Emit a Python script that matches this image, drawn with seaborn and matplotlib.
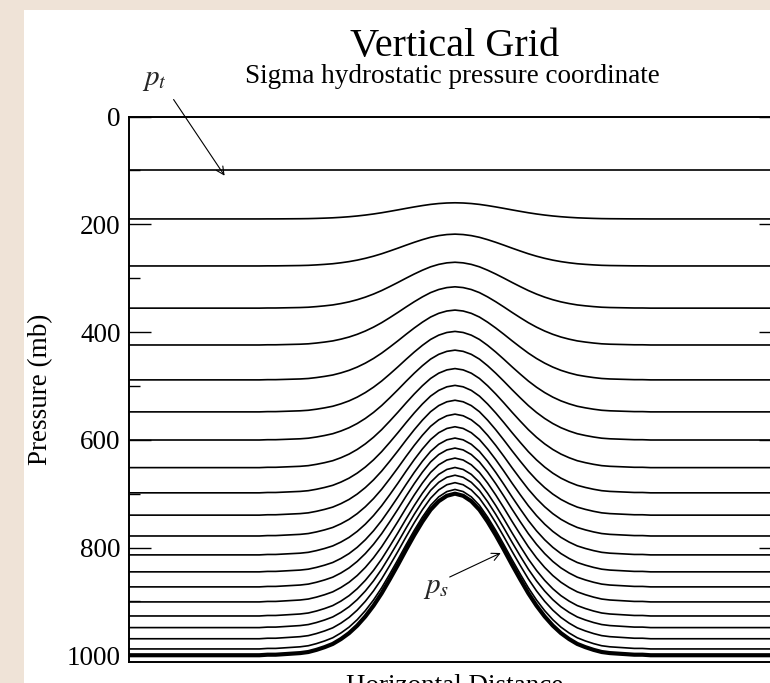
import numpy as np
import pandas as pd
import matplotlib
matplotlib.use("Agg")
import matplotlib.pyplot as plt
import seaborn as sns
from matplotlib.patches import Rectangle

# ---------------- data ----------------
P_TOP = 100  # model top pressure p_t (mb)

# sigma levels (0 = model top, 1 = surface), read at the flat left edge
sigma_levels = [0.0, 0.1, 0.197, 0.284, 0.36, 0.432, 0.498, 0.556, 0.613, 0.665,
                0.711, 0.754, 0.793, 0.828, 0.859, 0.89, 0.919, 0.943, 0.966, 0.987]

# horizontal positions and surface pressure p_s (mb) along the section
x_pos = [0, 20, 21.25, 22.5, 23.75, 25, 26.25, 27.5, 28.75, 30, 31.25, 32.5, 33.75,
         35, 36.25, 37.5, 38.75, 40, 41.25, 42.5, 43.75, 45, 46.25, 47.5, 48.75,
         50, 51.25, 52.5, 53.75, 55, 56.25, 57.5, 58.75, 60, 61.25, 62.5, 63.75,
         65, 66.25, 67.5, 68.75, 70, 71.25, 72.5, 73.75, 75, 76.25, 77.5, 78.75,
         80, 100]
surface_p = [1000, 1000, 999, 999, 998, 997, 996, 994, 990, 985, 979, 970, 959,
             945, 928, 908, 885, 859, 832, 804, 777, 752, 730, 714, 704,
             700, 704, 714, 730, 752, 777, 804, 832, 859, 885, 908, 928,
             945, 959, 970, 979, 985, 990, 994, 996, 997, 998, 999, 999,
             1000, 1000]

y_major = [0, 200, 400, 600, 800, 1000]
y_minor = [100, 300, 500, 700, 900]

# ---------------- build long table: p = p_t + sigma * (p_s - p_t) ----------------
xs = np.array(x_pos, dtype=float)
ps = np.array(surface_p, dtype=float)
rows = []
for k, s in enumerate(sigma_levels):
    for xv, pv in zip(xs, P_TOP + s * (ps - P_TOP)):
        rows.append({"x": xv, "p": pv, "level": k})
df_levels = pd.DataFrame(rows)
df_surface = pd.DataFrame({"x": xs, "p": ps})

# ---------------- styling ----------------
sns.set_style("ticks")
plt.rcParams["font.family"] = ["Liberation Serif", "DejaVu Serif"]
plt.rcParams["mathtext.fontset"] = "stix"

W, H = 770, 683
fig = plt.figure(figsize=(W / 100, H / 100), dpi=100)
fig.patch.set_facecolor("#efe3d7")
fig.patches.append(Rectangle((24 / W, 0), 1, 1 - 10 / H, transform=fig.transFigure,
                             facecolor="white", edgecolor="none", zorder=-10))

ax_left, ax_right = 129, 781
ax_top, ax_bot = 116.6, 661.7
ax = fig.add_axes([ax_left / W, 1 - ax_bot / H, (ax_right - ax_left) / W,
                   (ax_bot - ax_top) / H])
ax.set_facecolor("white")

sns.lineplot(data=df_levels, x="x", y="p", units="level", estimator=None,
             color="black", linewidth=1.2, ax=ax, legend=False)
sns.lineplot(data=df_surface, x="x", y="p", estimator=None, color="black",
             linewidth=3.0, ax=ax, legend=False)

ax.set_xlim(0, 100)
ax.set_ylim(1012, 0)
ax.set_xticks([])
ax.set_yticks(y_major)
ax.set_yticks(y_minor, minor=True)
ax.set_yticklabels([str(v) for v in y_major], fontsize=19.5, color="black")
ax.tick_params(axis="y", which="major", direction="in", length=15.8, width=1.0,
               left=True, right=True, pad=6, color="black")
ax.tick_params(axis="y", which="minor", direction="in", length=7.9, width=1.0,
               left=True, right=True, color="black")
for sp in ax.spines.values():
    sp.set_visible(True)
    sp.set_color("black")
    sp.set_linewidth(1.4)

ax.set_ylabel("Pressure (mb)", fontsize=19.5, color="black")
ax.yaxis.set_label_coords((53 - ax_left) / (ax_right - ax_left), 0.5)
ax.set_xlabel("Horizontal Distance", fontsize=19.5, color="black", labelpad=9)

fig.text(455 / W, 1 - 56 / H, "Vertical Grid", ha="center", va="baseline",
         fontsize=29, color="black")
fig.text(452 / W, 1 - 83 / H, "Sigma hydrostatic pressure coordinate",
         ha="center", va="baseline", fontsize=19.5, color="black")

# annotations
ax.text(2.0, -58.7, r"$p_t$", fontsize=21, ha="left", va="baseline", clip_on=False)
ax.annotate("", xy=(14.9, 114), xytext=(6.6, -36),
            arrowprops=dict(arrowstyle="->", color="black", lw=0.8,
                            mutation_scale=14),
            annotation_clip=False)
ax.text(45.1, 884, r"$p_s$", fontsize=21, ha="left", va="baseline")
ax.annotate("", xy=(57.4, 808), xytext=(48.8, 857),
            arrowprops=dict(arrowstyle="->", color="black", lw=0.8,
                            mutation_scale=14))

fig.savefig("out.png", dpi=100, facecolor=fig.get_facecolor())
